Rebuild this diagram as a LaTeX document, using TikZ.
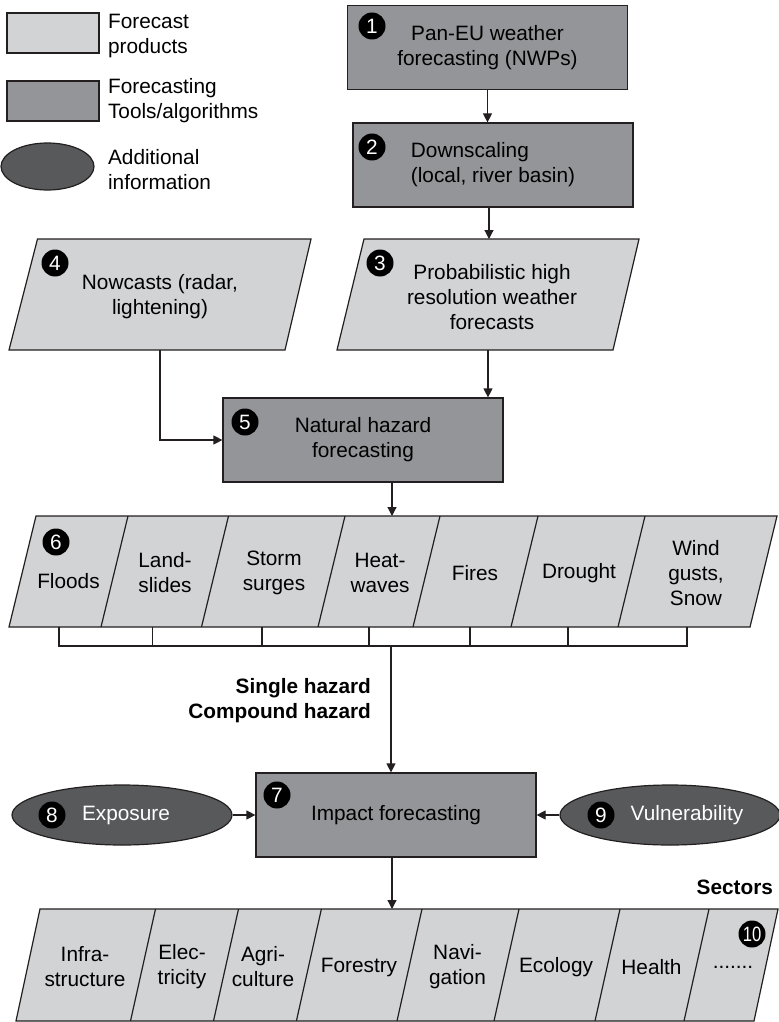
\documentclass[tikz,border=0pt]{standalone}
\usepackage{fontspec}
\setmainfont{Liberation Sans}
\usetikzlibrary{arrows.meta, shapes.geometric}
\definecolor{prodgray}{HTML}{D1D3D4}
\definecolor{toolgray}{HTML}{939598}
\definecolor{infogray}{HTML}{58595B}
\definecolor{edgegray}{HTML}{231F20}

\begin{document}
\begin{tikzpicture}[x=0.5pt,y=-0.5pt,
  font=\fontsize{10.4}{12.5}\selectfont,
  prod/.style={draw=edgegray,fill=prodgray,line width=0.6pt},
  tool/.style={draw=edgegray,fill=toolgray,line width=0.6pt,minimum width=140pt,minimum height=42pt,align=center},
  info/.style={ellipse,draw=edgegray,fill=infogray,line width=0.6pt,minimum width=110pt,minimum height=30pt},
  num/.style={circle,fill=black,text=white,inner sep=0pt,minimum size=13.5pt},
  arr/.style={draw=edgegray,line width=0.6pt,-{Triangle[length=4.5pt,width=4.5pt]}}]
\useasboundingbox (0,0) rectangle (779,1022);

\draw[prod] (7,13) rectangle (99,53);
\draw[draw=edgegray,fill=toolgray,line width=0.6pt] (7,81) rectangle (99,121);
\draw[draw=edgegray,fill=infogray,line width=0.6pt] (47.5,166.5) ellipse [x radius=46.5, y radius=23.5];
\node[anchor=west,align=left] (leg1) at (101,36) {Forecast\\products};
\node[anchor=west,align=left] (leg2) at (101,101) {Forecasting\\Tools/algorithms};
\node[anchor=west,align=left] (leg3) at (101,170) {Additional\\information};

\node[tool] (b1) at (487.5,47.5) {Pan-EU weather\\forecasting (NWPs)};
\node[tool,align=left] (b2) at (493,165) {Downscaling\\(local, river basin)};
\node[tool] (b5) at (363,440) {Natural hazard\\forecasting};
\node[tool] (b7) at (396,815) {Impact forecasting};

\draw[prod] (37.5,239) -- (311,239) -- (285,350) -- (9,350) -- cycle;
\draw[prod] (364,239) -- (639,239) -- (613,350) -- (337,350) -- cycle;
\node[align=center] (p4) at (160,297) {Nowcasts (radar,\\lightening)};
\node[align=center] (p3) at (492,297) {Probabilistic high\\resolution weather\\forecasts};
\coordinate (p3top) at (489,239);
\coordinate (p3bot) at (488,350);
\coordinate (p4bot) at (160,350);

\draw[prod] (36,516) -- (777,516) -- (750,627) -- (9,627) -- cycle;
\foreach \t in {128,228.5,345,440,538,645}
  \draw[draw=edgegray,line width=0.6pt] (\t,516) -- ++(-27,111);
\foreach \x/\y/\txt [count=\i] in {68.5/581/Floods, 165/573/{Land-\\slides}, 274/573/{Storm\\surges},
    380/573/{Heat-\\waves}, 475/573/Fires, 579/573/Drought, 696/573/{Wind\\gusts,\\Snow}}
  \node[align=center] (hz\i) at (\x,\y) {\txt};
\coordinate (hztop) at (392,516);

\draw[draw=edgegray,line width=0.6pt] (59,627) -- (59,646) -- (687,646) -- (687,627);
\foreach \x in {152.5,262,369,470,568}
  \draw[draw=edgegray,line width=0.6pt] (\x,627) -- (\x,646);
\coordinate (brk) at (391,646);
\node[anchor=east,align=right,font=\fontsize{10.4}{12.5}\selectfont\bfseries] (hzlabel) at (378,701) {Single hazard\\Compound hazard};

\node[info] (e8) at (122,815) {};
\node[info] (e9) at (670,815) {};
\node[text=white] (t8) at (126,815) {Exposure};
\node[text=white] (t9) at (687,815) {Vulnerability};

\node[anchor=east,font=\fontsize{10.4}{12.5}\selectfont\bfseries] (sectors) at (780,887) {Sectors};
\draw[prod] (40,909) -- (778,909) -- (754,1021) -- (16,1021) -- cycle;
\foreach \t in {155.5,238.5,321.4,422,519,620,709}
  \draw[draw=edgegray,line width=0.6pt] (\t,909) -- ++(-25,112);
\foreach \x/\txt [count=\i] in {85/{Infra-\\structure}, 182/{Elec-\\tricity}, 263/{Agri-\\culture}, 359/Forestry,
    457.5/{Navi-\\gation}, 556/Ecology, 651.5/Health, 733/{.......}}
  \node[align=center] (sec\i) at (\x,967) {\txt};
\coordinate (sectop) at (392,909);

\draw[arr] (b1.south) -- (b1.south |- b2.north);
\draw[arr] (b2.south -| p3top) -- (p3top);
\draw[arr] (p3bot) -- (p3bot |- b5.north);
\draw[arr] (p4bot) |- (b5.west);
\draw[arr] (b5.south -| hztop) -- (hztop);
\draw[arr] (brk) -- (brk |- b7.north);
\draw[arr] (e8.east) -- (b7.west);
\draw[arr] (e9.west) -- (b7.east);
\draw[arr] (b7.south -| sectop) -- (sectop);

\node[num] (n1) at (372,26) {1};
\node[num] (n2) at (372,147) {2};
\node[num] (n3) at (380,263) {3};
\node[num] (n4) at (55,263) {4};
\node[num] (n5) at (245,422) {5};
\node[num] (n6) at (56,542) {6};
\node[num] (n7) at (277,795) {7};
\node[num] (n8) at (52,815) {8};
\node[num] (n9) at (601,815) {9};
\node[num] (n10) at (752,934) {\scalebox{0.8}[1]{10}};
\end{tikzpicture}
\end{document}
